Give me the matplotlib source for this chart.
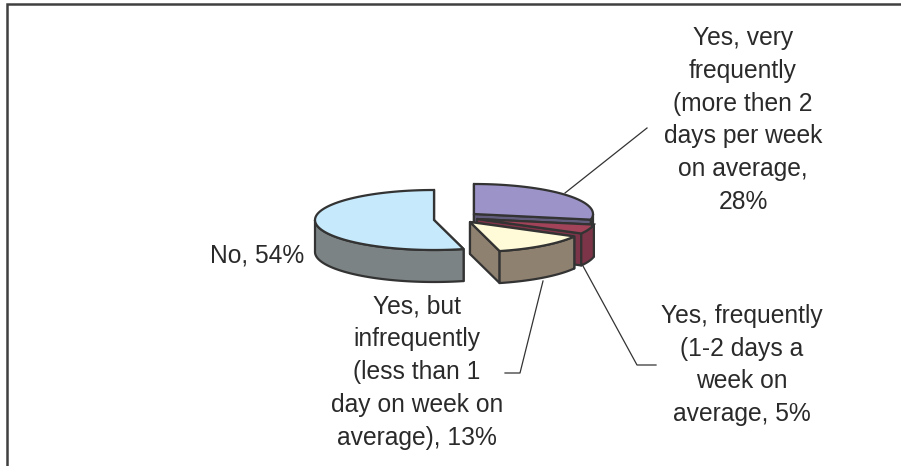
import numpy as np
import matplotlib
matplotlib.use('Agg')
import matplotlib.pyplot as plt

plt.rcParams['font.family'] = ['Liberation Sans', 'DejaVu Sans']

# values, clockwise from 12 o'clock
names = ['Yes, very frequently', 'Yes, frequently', 'Yes, but infrequently', 'No']
values = [28, 5, 13, 54]
top_colors = ['#9C94C8', '#A2435A', '#FFFBD8', '#C6E9FB']
side_colors = ['#625C7C', '#7C3548', '#8F8170', '#7C8384']
apex = [(474, 214), (477, 219), (470, 222), (434, 220)]  # exploded slices

label_texts = [
    'Yes, very\nfrequently\n(more then 2\ndays per week\non average,\n28%',
    'Yes, frequently\n(1-2 days a\nweek on\naverage, 5%',
    'Yes, but\ninfrequently\n(less than 1\nday on week on\naverage), 13%',
    'No, 54%',
]
label_pos = [(743, 120), (742, 365), (417, 372), (257, 256)]
leaders = [
    [(565, 193), (647, 128)],
    [(583, 266), (637, 365), (656, 365)],
    [(543, 281), (520, 373), (505, 373)],
]

RX, RY, DEPTH = 119, 30, 32
EDGE = '#333333'

fig = plt.figure(figsize=(9.01, 4.66), dpi=100)
ax = fig.add_axes([0, 0, 1, 1])
ax.set_xlim(0, 901)
ax.set_ylim(466, 0)
ax.axis('off')

# frame, only left and top are in the crop
ax.plot([7, 7, 901], [466, 4, 4], color='#404040', lw=1.8, solid_joinstyle='miter')


def rim(c, a0, a1):
    t = np.radians(np.linspace(a0, a1, 80))
    return c[0] + RX * np.cos(t), c[1] + RY * np.sin(t)


def draw_slice(c, a0, a1, top, side):
    # a0..a1 in degrees, measured clockwise on screen (y axis points down)
    kw = dict(edgecolor=EDGE, lw=1.6, joinstyle='round', facecolor=side)
    x0, y0 = rim(c, a0, a0)
    x1, y1 = rim(c, a1, a1)
    # cut faces
    for xe, ye in [(x0[0], y0[0]), (x1[0], y1[0])]:
        ax.fill([c[0], xe, xe, c[0]], [c[1], ye, ye + DEPTH, c[1] + DEPTH], **kw)
    # outer wall, only the part facing the viewer
    lo, hi = max(a0, 0), min(a1, 180)
    if lo < hi:
        x, y = rim(c, lo, hi)
        ax.fill(np.r_[x, x[::-1]], np.r_[y, y[::-1] + DEPTH], **kw)
    x, y = rim(c, a0, a1)
    ax.fill(np.r_[c[0], x], np.r_[c[1], y], facecolor=top, edgecolor=EDGE, lw=1.6)


angles = np.r_[0, np.cumsum(values)] * 3.6 - 90
for i in range(len(values)):
    draw_slice(apex[i], angles[i], angles[i + 1], top_colors[i], side_colors[i])

for pts in leaders:
    xs, ys = zip(*pts)
    ax.plot(xs, ys, color='#333333', lw=0.9)

for txt, (x, y) in zip(label_texts, label_pos):
    ax.text(x, y, txt, ha='center', va='center', fontsize=17.7, color='#2a2a2a', linespacing=1.47)

fig.savefig('out.png', dpi=100)
